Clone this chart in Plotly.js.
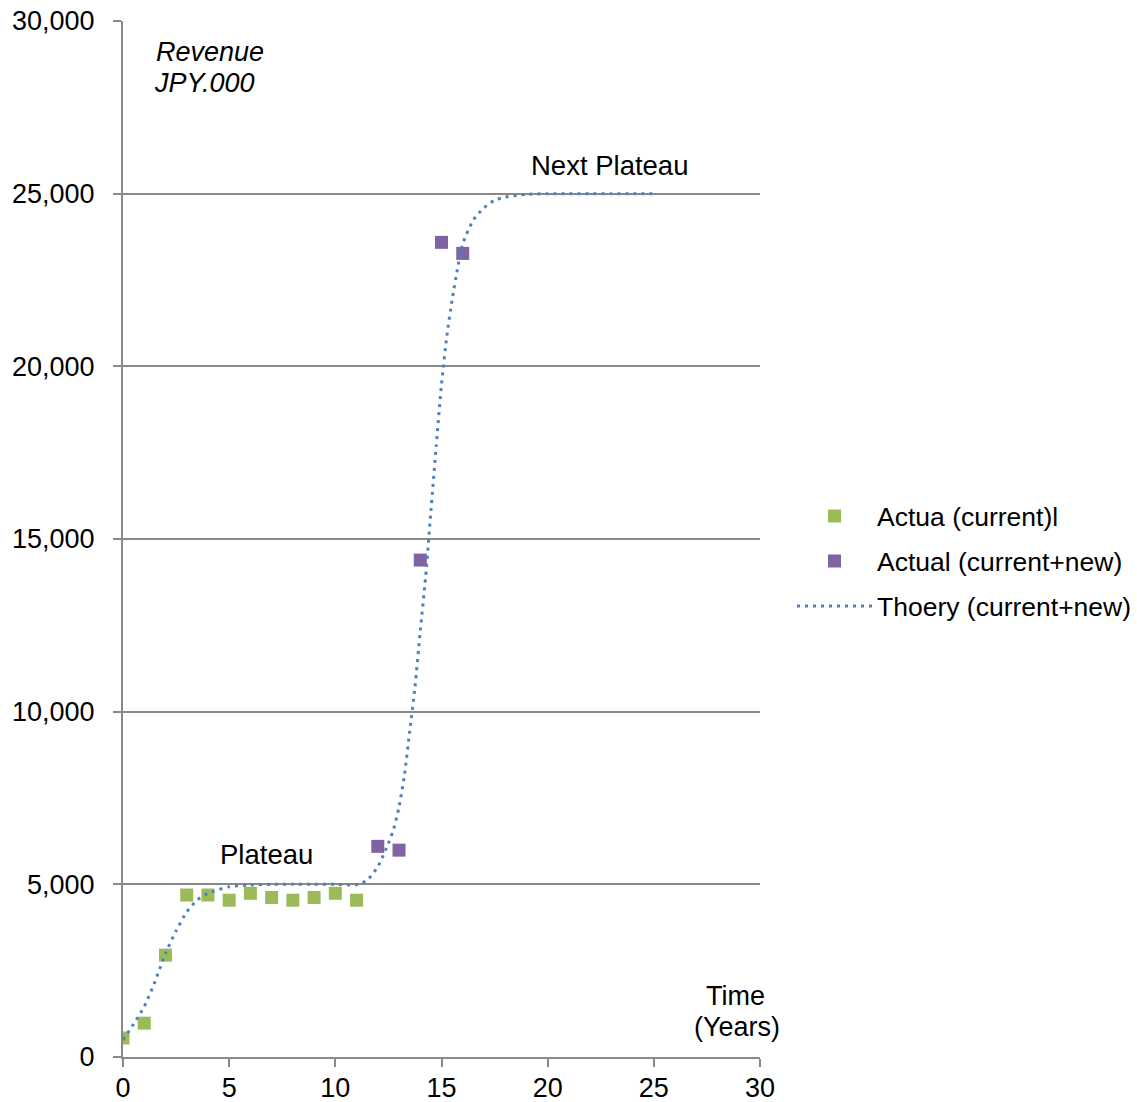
<!DOCTYPE html>
<html>
<head>
<meta charset="utf-8">
<script src="https://cdn.plot.ly/plotly-3.0.1.min.js"></script>
<style>
  html, body { margin: 0; padding: 0; background: #ffffff; }
  #chart { width: 1137px; height: 1102px; }
</style>
</head>
<body>
<div id="chart"></div>
<script>
// Revenue (JPY.000) by year
const currentYears = [0, 1, 2, 3, 4, 5, 6, 7, 8, 9, 10, 11];
const currentRevenue = [550, 980, 2950, 4690, 4690, 4540, 4740, 4620, 4540, 4620, 4740, 4540];

const newYears = [12, 13, 14, 15, 16];
const newRevenue = [6100, 5990, 14390, 23590, 23270];

const theoryYears = [0, 0.5, 1, 1.5, 2, 2.5, 3, 3.5, 4, 5, 6, 7, 8, 9, 10, 11, 11.5, 12, 12.5, 12.75,
  13, 13.25, 13.5, 13.75, 14, 14.25, 14.5, 14.75, 15, 15.25, 15.5, 15.75, 16, 16.5, 17, 17.5, 18, 19,
  20, 21, 22, 23, 24, 25];
const theoryRevenue = [500, 955, 1460, 2170, 3000, 3650, 4200, 4550, 4740, 4930, 4980, 5000, 5000, 5000,
  5000, 4990, 5120, 5510, 6190, 6610, 7240, 8140, 9420, 10710, 12330, 13890, 15790, 17690, 19480,
  20870, 21930, 22810, 23550, 24240, 24590, 24810, 24900, 24980, 25000, 25000, 25000, 25000, 25000, 25000];

const legendNames = ['Actua (current)l', 'Actual (current+new)', 'Thoery (current+new)'];

const FONT = 'Liberation Sans, Arial, sans-serif';
const GRID = '#898989';
const FS = 27;

const traces = [
  {
    x: currentYears, y: currentRevenue, name: legendNames[0],
    type: 'scatter', mode: 'markers', legendgroup: 'a',
    marker: { symbol: 'square', size: 13, color: '#9BBB59' }
  },
  {
    x: newYears, y: newRevenue, name: legendNames[1],
    type: 'scatter', mode: 'markers', legendgroup: 'b',
    marker: { symbol: 'square', size: 13, color: '#8064A2' }
  },
  {
    x: theoryYears, y: theoryRevenue, name: legendNames[2],
    type: 'scatter', mode: 'lines', legendgroup: 'c',
    line: { color: '#4F81BD', width: 3, dash: '3px,5px', shape: 'spline', smoothing: 0.6 }
  }
];

const layout = {
  width: 1137, height: 1102,
  margin: { l: 123, r: 377, t: 21, b: 45, autoexpand: false },
  paper_bgcolor: '#ffffff', plot_bgcolor: '#ffffff',
  font: { family: FONT, size: FS, color: '#000000' },
  showlegend: true,
  legend: {
    x: (792 - 123) / 637, y: 0.545, xanchor: 'left', yanchor: 'top',
    font: { family: FONT, size: 26.5, color: '#000000' },
    itemwidth: 75,
    tracegroupgap: 7.5, bgcolor: 'rgba(0,0,0,0)'
  },
  xaxis: {
    range: [0, 30], dtick: 5, tick0: 0,
    showgrid: false, zeroline: false,
    showline: true, linecolor: GRID, linewidth: 2,
    ticks: 'outside', ticklen: 8, tickwidth: 2, tickcolor: GRID,
    ticklabelstandoff: -2,
    tickfont: { family: FONT, size: FS, color: '#000000' },
    fixedrange: true
  },
  yaxis: {
    range: [0, 30000], dtick: 5000, tick0: 0, tickformat: ',',
    showgrid: true, gridcolor: GRID, gridwidth: 2, zeroline: false,
    showline: true, linecolor: GRID, linewidth: 2,
    ticks: 'outside', ticklen: 8, tickwidth: 2, tickcolor: GRID,
    ticklabelstandoff: 13,
    tickfont: { family: FONT, size: FS, color: '#000000' },
    fixedrange: true
  },
  annotations: [
    { xref: 'paper', yref: 'paper', x: (154 - 123) / 637, y: 1 - (52 - 21) / 1036, xanchor: 'left', yanchor: 'middle',
      text: '<i>Revenue</i>', showarrow: false, font: { family: FONT, size: FS } },
    { xref: 'paper', yref: 'paper', x: (152 - 123) / 637, y: 1 - (83 - 21) / 1036, xanchor: 'left', yanchor: 'middle',
      text: '<i>JPY.000</i>', showarrow: false, font: { family: FONT, size: FS } },
    { xref: 'x', yref: 'y', x: 22.9, y: 25000, yshift: 28, xanchor: 'center', yanchor: 'middle',
      text: 'Next Plateau', showarrow: false, font: { family: FONT, size: 27.5 } },
    { xref: 'x', yref: 'y', x: 6.75, y: 5000, yshift: 30, xanchor: 'center', yanchor: 'middle',
      text: 'Plateau', showarrow: false, font: { family: FONT, size: 27.5 } },
    { xref: 'paper', yref: 'paper', x: (767 - 123) / 637, y: 1 - (996 - 21) / 1036, xanchor: 'right', yanchor: 'middle',
      text: 'Time', showarrow: false, font: { family: FONT, size: FS } },
    { xref: 'paper', yref: 'paper', x: (782 - 123) / 637, y: 1 - (1027 - 21) / 1036, xanchor: 'right', yanchor: 'middle',
      text: '(Years)', showarrow: false, font: { family: FONT, size: FS } }
  ]
};

Plotly.newPlot('chart', traces, layout, { displayModeBar: false, staticPlot: true });
</script>
</body>
</html>
